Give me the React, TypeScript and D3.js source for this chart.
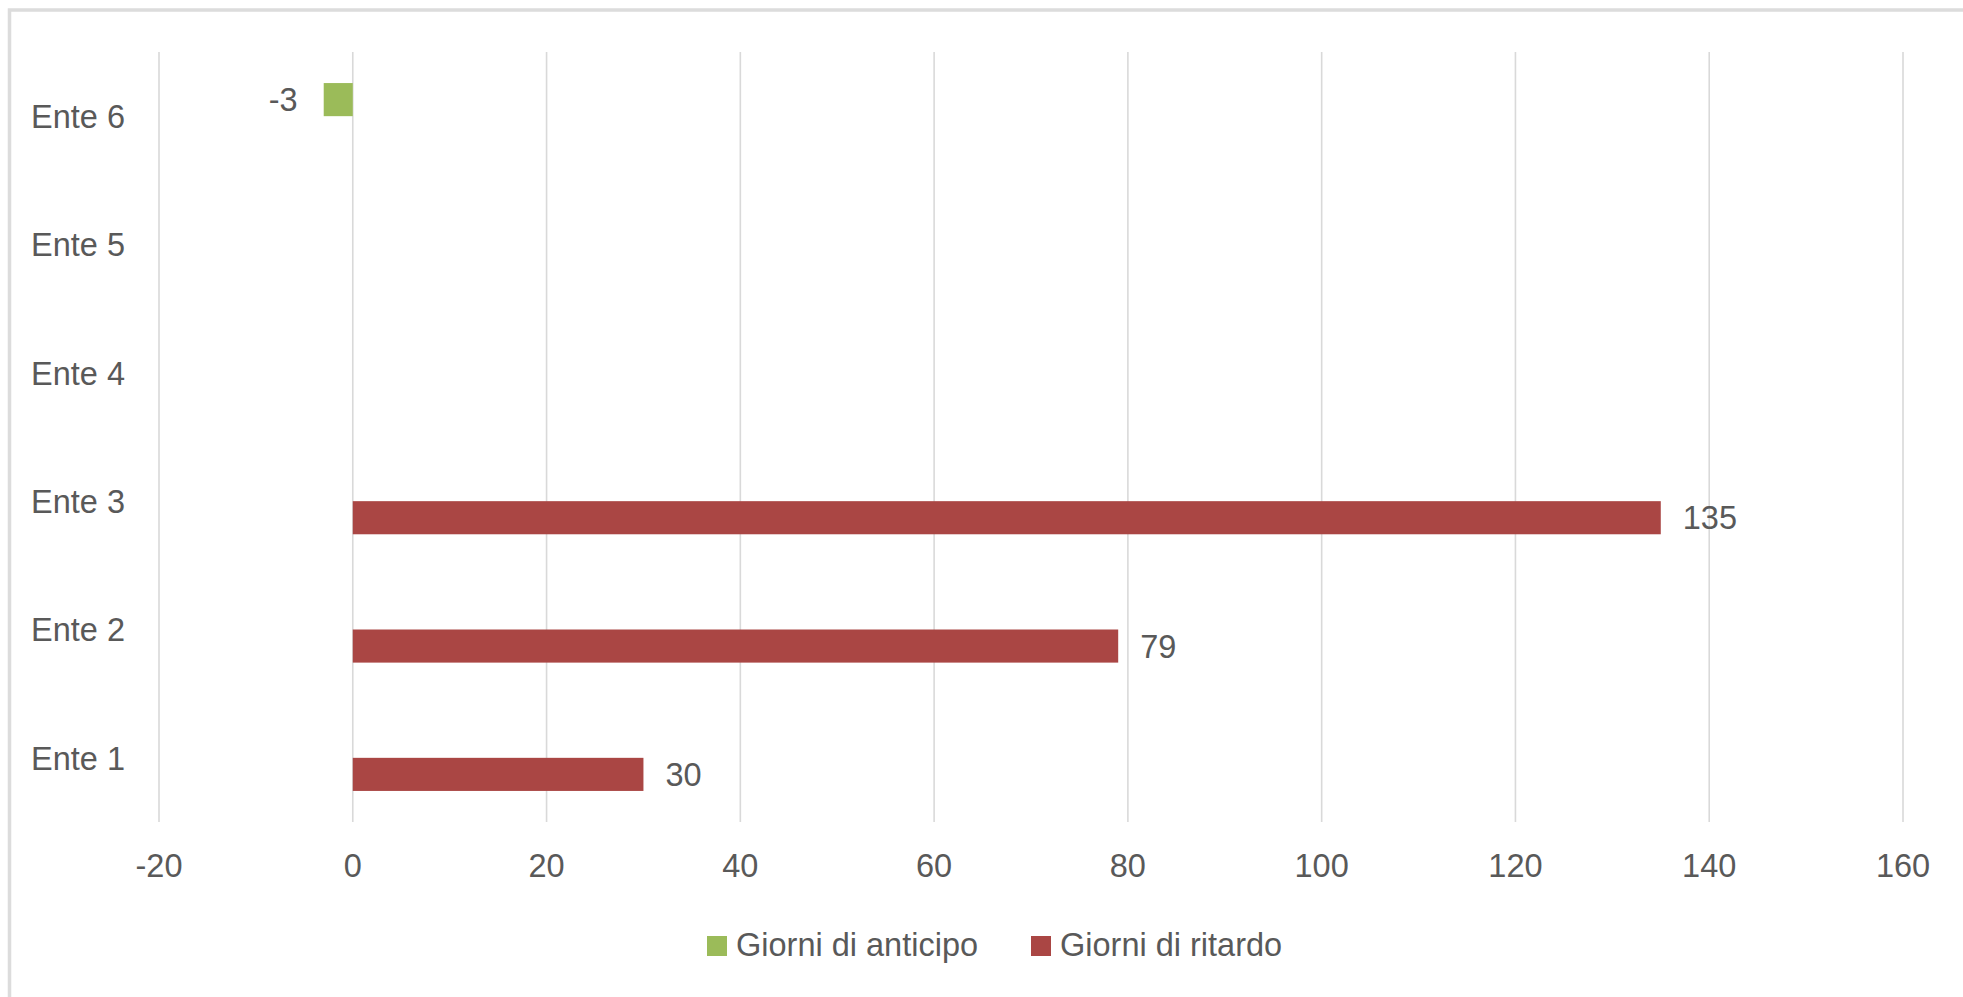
import React from "react";
import * as d3 from "d3";

const categories = ["Ente 1", "Ente 2", "Ente 3", "Ente 4", "Ente 5", "Ente 6"];
const anticipo: (number | null)[] = [null, null, null, null, null, -3];
const ritardo: (number | null)[] = [30, 79, 135, null, null, null];
const xTicks = [-20, 0, 20, 40, 60, 80, 100, 120, 140, 160];
const seriesNames = ["Giorni di anticipo", "Giorni di ritardo"];
const seriesColors = ["#9BBB59", "#AA4644"];

const W = 1963;
const H = 997;
const FONT = "'Liberation Sans', Arial, sans-serif";
const TEXT = "#595959";
const GRID = "#d9d9d9";

export default function App() {
  const x = d3.scaleLinear().domain([-20, 160]).range([159, 1903]);
  const y = d3
    .scaleBand<string>()
    .domain([...categories].reverse())
    .range([52, 822])
    .padding(0);
  const barH = y.bandwidth() * 0.258;
  const fs = 32.5;

  const series = [anticipo, ritardo];

  return (
    <svg
      width={W}
      height={H}
      style={{ position: "absolute", left: 0, top: 0, display: "block", background: "#fff" }}
      fontFamily={FONT}
    >
      <rect x={0} y={0} width={W} height={H} fill="#fff" />
      {/* chart border (right/bottom outside view) */}
      <rect x={9.5} y={10} width={W + 20} height={H + 20} fill="none" stroke="#dcdcdc" strokeWidth={3.5} />

      {/* gridlines */}
      {xTicks.map((t) => (
        <line key={"g" + t} x1={x(t)} x2={x(t)} y1={52} y2={822} stroke={GRID} strokeWidth={1.6} />
      ))}

      {/* bars */}
      {series.map((vals, si) =>
        vals.map((v, i) => {
          if (v === null) return null;
          const c = y(categories[i])! + y.bandwidth() / 2;
          const y0 = si === 0 ? c - barH : c;
          const x0 = Math.min(x(0), x(v));
          const w = Math.abs(x(v) - x(0));
          const lx = v < 0 ? x(v) - 26 : x(v) + 22;
          return (
            <g key={`b${si}-${i}`}>
              <rect x={x0} y={y0} width={w} height={barH} fill={seriesColors[si]} />
              <text
                x={lx}
                y={y0 + barH / 2 + fs * 0.36}
                fontSize={fs}
                fill={TEXT}
                textAnchor={v < 0 ? "end" : "start"}
              >
                {v}
              </text>
            </g>
          );
        })
      )}

      {/* category labels */}
      {categories.map((c) => (
        <text
          key={"c" + c}
          x={125}
          y={y(c)! + y.bandwidth() / 2 + fs * 0.36}
          fontSize={fs}
          fill={TEXT}
          textAnchor="end"
        >
          {c}
        </text>
      ))}

      {/* x tick labels */}
      {xTicks.map((t) => (
        <text key={"t" + t} x={x(t)} y={877} fontSize={fs} fill={TEXT} textAnchor="middle">
          {t}
        </text>
      ))}

      {/* legend */}
      {seriesNames.map((n, i) => {
        const lx = [707, 1031][i];
        return (
          <g key={"l" + i}>
            <rect x={lx} y={936} width={20} height={20} fill={seriesColors[i]} />
            <text x={lx + 29} y={956} fontSize={fs} fill={TEXT}>
              {n}
            </text>
          </g>
        );
      })}
    </svg>
  );
}
